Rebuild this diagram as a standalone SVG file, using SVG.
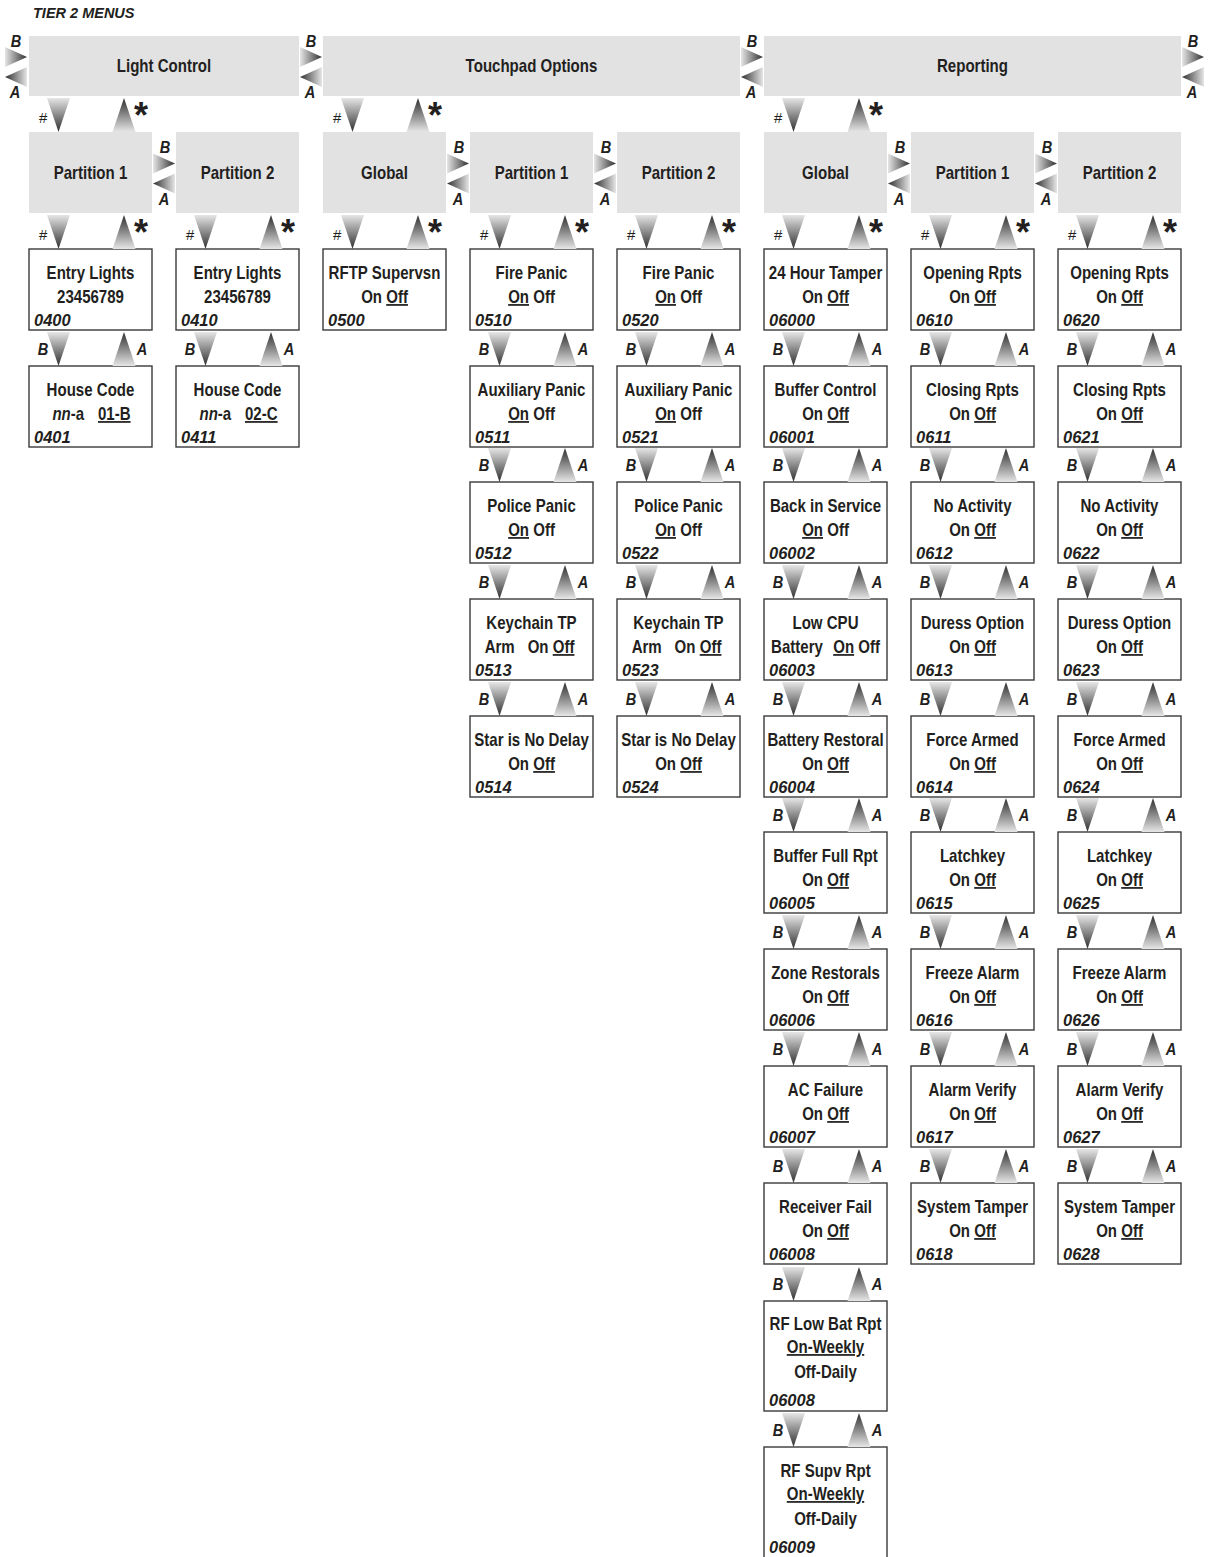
<svg xmlns="http://www.w3.org/2000/svg" xmlns:xlink="http://www.w3.org/1999/xlink" width="1209" height="1557" viewBox="0 0 1209 1557">
<style>
.gray{fill:#e2e2e3}
.bx{fill:#fff;stroke:#3a3a3a;stroke-width:1.4}
.t{font-family:"Liberation Sans",Arial,sans-serif;font-weight:bold;font-size:17.5px;fill:#231f20;text-anchor:middle;transform:scaleX(0.86);transform-box:fill-box;transform-origin:center}
.cd{font-family:"Liberation Sans",Arial,sans-serif;font-weight:bold;font-style:italic;font-size:16.5px;fill:#231f20}
.u{text-decoration:underline;text-decoration-thickness:2px;text-underline-offset:3px}
.i{font-style:italic}
.lb{font-family:"Liberation Sans",Arial,sans-serif;font-weight:bold;font-style:italic;font-size:17px;fill:#231f20;text-anchor:middle;transform:scaleX(0.86);transform-box:fill-box;transform-origin:center}
.hs{font-family:"Liberation Sans",Arial,sans-serif;font-style:italic;font-size:15px;fill:#231f20;text-anchor:middle}
.st{font-family:"Liberation Sans",sans-serif;font-weight:bold;font-size:36px;fill:#231f20;text-anchor:middle}
.hd{font-family:"Liberation Sans",sans-serif;font-weight:bold;font-style:italic;font-size:14.5px;fill:#231f20}
</style>
<defs>
<linearGradient id="gd" x1="0" y1="0" x2="0" y2="1"><stop offset="0" stop-color="#e6e6e6"/><stop offset="1" stop-color="#2e2e2e"/></linearGradient>
<linearGradient id="gu" x1="0" y1="0" x2="0" y2="1"><stop offset="0" stop-color="#2e2e2e"/><stop offset="1" stop-color="#e6e6e6"/></linearGradient>
<linearGradient id="gr" x1="0" y1="0" x2="1" y2="0"><stop offset="0" stop-color="#e6e6e6"/><stop offset="1" stop-color="#2e2e2e"/></linearGradient>
<linearGradient id="gl" x1="0" y1="0" x2="1" y2="0"><stop offset="0" stop-color="#2e2e2e"/><stop offset="1" stop-color="#e6e6e6"/></linearGradient>
<path id="dn" d="M-11.5,0 H11.5 L0,34 Z" fill="url(#gd)"/>
<path id="up" d="M0,0 L11.5,34 H-11.5 Z" fill="url(#gu)"/>
<path id="rt" d="M0,0 L22,10 L0,20 Z" fill="url(#gr)"/>
<path id="lt" d="M22,0 L0,10 L22,20 Z" fill="url(#gl)"/>
</defs>
<rect width="1209" height="1557" fill="#fff"/>
<text class="hd" x="33" y="18">TIER 2 MENUS</text>

<g id="light-control"><rect class="gray" x="29" y="36" width="270" height="60"/><text class="t" x="164" y="72">Light Control</text></g>
<g id="touchpad-options"><rect class="gray" x="323" y="36" width="417" height="60"/><text class="t" x="531.5" y="72">Touchpad Options</text></g>
<g id="reporting"><rect class="gray" x="764" y="36" width="417" height="60"/><text class="t" x="972.5" y="72">Reporting</text></g>

<g id="lc-partition1"><rect class="gray" x="29" y="132" width="123" height="81"/><text class="t" x="90.5" y="179">Partition 1</text></g>
<g id="lc-partition2"><rect class="gray" x="176" y="132" width="123" height="81"/><text class="t" x="237.5" y="179">Partition 2</text></g>
<g id="tp-global"><rect class="gray" x="323" y="132" width="123" height="81"/><text class="t" x="384.5" y="179">Global</text></g>
<g id="tp-partition1"><rect class="gray" x="470" y="132" width="123" height="81"/><text class="t" x="531.5" y="179">Partition 1</text></g>
<g id="tp-partition2"><rect class="gray" x="617" y="132" width="123" height="81"/><text class="t" x="678.5" y="179">Partition 2</text></g>
<g id="rp-global"><rect class="gray" x="764" y="132" width="123" height="81"/><text class="t" x="825.5" y="179">Global</text></g>
<g id="rp-partition1"><rect class="gray" x="911" y="132" width="123" height="81"/><text class="t" x="972.5" y="179">Partition 1</text></g>
<g id="rp-partition2"><rect class="gray" x="1058" y="132" width="123" height="81"/><text class="t" x="1119.5" y="179">Partition 2</text></g>

<!-- Light control column 0 -->
<g id="n0400"><rect class="bx" x="29" y="249" width="123" height="81"/><text class="t" x="90.5" y="279">Entry Lights</text><text class="t" x="90.5" y="303">23456789</text><text class="cd" x="34" y="326">0400</text></g>
<g id="n0401"><rect class="bx" x="29" y="366" width="123" height="81"/><text class="t" x="90.5" y="396">House Code</text><text class="t" x="91.5" y="420"><tspan class="i">nn</tspan>-a<tspan class="u" dx="16">01-B</tspan></text><text class="cd" x="34" y="443">0401</text></g>
<g id="n0410"><rect class="bx" x="176" y="249" width="123" height="81"/><text class="t" x="237.5" y="279">Entry Lights</text><text class="t" x="237.5" y="303">23456789</text><text class="cd" x="181" y="326">0410</text></g>
<g id="n0411"><rect class="bx" x="176" y="366" width="123" height="81"/><text class="t" x="237.5" y="396">House Code</text><text class="t" x="238.5" y="420"><tspan class="i">nn</tspan>-a<tspan class="u" dx="16">02-C</tspan></text><text class="cd" x="181" y="443">0411</text></g>

<!-- Touchpad global -->
<g id="n0500"><rect class="bx" x="323" y="249" width="123" height="81"/><text class="t" x="384.5" y="279">RFTP Supervsn</text><text class="t" x="384.5" y="303">On <tspan class="u">Off</tspan></text><text class="cd" x="328" y="326">0500</text></g>

<!-- Touchpad partition 1 -->
<g id="n0510"><rect class="bx" x="470" y="249" width="123" height="81"/><text class="t" x="531.5" y="279">Fire Panic</text><text class="t" x="531.5" y="303"><tspan class="u">On</tspan> Off</text><text class="cd" x="475" y="326">0510</text></g>
<g id="n0511"><rect class="bx" x="470" y="366" width="123" height="81"/><text class="t" x="531.5" y="396">Auxiliary Panic</text><text class="t" x="531.5" y="420"><tspan class="u">On</tspan> Off</text><text class="cd" x="475" y="443">0511</text></g>
<g id="n0512"><rect class="bx" x="470" y="482" width="123" height="81"/><text class="t" x="531.5" y="512">Police Panic</text><text class="t" x="531.5" y="536"><tspan class="u">On</tspan> Off</text><text class="cd" x="475" y="559">0512</text></g>
<g id="n0513"><rect class="bx" x="470" y="599" width="123" height="81"/><text class="t" x="531.5" y="629">Keychain TP</text><text class="t" x="529.5" y="653">Arm<tspan dx="15">On</tspan> <tspan class="u">Off</tspan></text><text class="cd" x="475" y="676">0513</text></g>
<g id="n0514"><rect class="bx" x="470" y="716" width="123" height="81"/><text class="t" x="531.5" y="746">Star is No Delay</text><text class="t" x="531.5" y="770">On <tspan class="u">Off</tspan></text><text class="cd" x="475" y="793">0514</text></g>

<!-- Touchpad partition 2 -->
<g id="n0520"><rect class="bx" x="617" y="249" width="123" height="81"/><text class="t" x="678.5" y="279">Fire Panic</text><text class="t" x="678.5" y="303"><tspan class="u">On</tspan> Off</text><text class="cd" x="622" y="326">0520</text></g>
<g id="n0521"><rect class="bx" x="617" y="366" width="123" height="81"/><text class="t" x="678.5" y="396">Auxiliary Panic</text><text class="t" x="678.5" y="420"><tspan class="u">On</tspan> Off</text><text class="cd" x="622" y="443">0521</text></g>
<g id="n0522"><rect class="bx" x="617" y="482" width="123" height="81"/><text class="t" x="678.5" y="512">Police Panic</text><text class="t" x="678.5" y="536"><tspan class="u">On</tspan> Off</text><text class="cd" x="622" y="559">0522</text></g>
<g id="n0523"><rect class="bx" x="617" y="599" width="123" height="81"/><text class="t" x="678.5" y="629">Keychain TP</text><text class="t" x="676.5" y="653">Arm<tspan dx="15">On</tspan> <tspan class="u">Off</tspan></text><text class="cd" x="622" y="676">0523</text></g>
<g id="n0524"><rect class="bx" x="617" y="716" width="123" height="81"/><text class="t" x="678.5" y="746">Star is No Delay</text><text class="t" x="678.5" y="770">On <tspan class="u">Off</tspan></text><text class="cd" x="622" y="793">0524</text></g>

<!-- Reporting global -->
<g id="n06000"><rect class="bx" x="764" y="249" width="123" height="81"/><text class="t" x="825.5" y="279">24 Hour Tamper</text><text class="t" x="825.5" y="303">On <tspan class="u">Off</tspan></text><text class="cd" x="769" y="326">06000</text></g>
<g id="n06001"><rect class="bx" x="764" y="366" width="123" height="81"/><text class="t" x="825.5" y="396">Buffer Control</text><text class="t" x="825.5" y="420">On <tspan class="u">Off</tspan></text><text class="cd" x="769" y="443">06001</text></g>
<g id="n06002"><rect class="bx" x="764" y="482" width="123" height="81"/><text class="t" x="825.5" y="512">Back in Service</text><text class="t" x="825.5" y="536"><tspan class="u">On</tspan> Off</text><text class="cd" x="769" y="559">06002</text></g>
<g id="n06003"><rect class="bx" x="764" y="599" width="123" height="81"/><text class="t" x="825.5" y="629">Low CPU</text><text class="t" x="825.5" y="653">Battery<tspan class="u" dx="12">On</tspan> Off</text><text class="cd" x="769" y="676">06003</text></g>
<g id="n06004"><rect class="bx" x="764" y="716" width="123" height="81"/><text class="t" x="825.5" y="746">Battery Restoral</text><text class="t" x="825.5" y="770">On <tspan class="u">Off</tspan></text><text class="cd" x="769" y="793">06004</text></g>
<g id="n06005"><rect class="bx" x="764" y="832" width="123" height="81"/><text class="t" x="825.5" y="862">Buffer Full Rpt</text><text class="t" x="825.5" y="886">On <tspan class="u">Off</tspan></text><text class="cd" x="769" y="909">06005</text></g>
<g id="n06006"><rect class="bx" x="764" y="949" width="123" height="81"/><text class="t" x="825.5" y="979">Zone Restorals</text><text class="t" x="825.5" y="1003">On <tspan class="u">Off</tspan></text><text class="cd" x="769" y="1026">06006</text></g>
<g id="n06007"><rect class="bx" x="764" y="1066" width="123" height="81"/><text class="t" x="825.5" y="1096">AC Failure</text><text class="t" x="825.5" y="1120">On <tspan class="u">Off</tspan></text><text class="cd" x="769" y="1143">06007</text></g>
<g id="n06008"><rect class="bx" x="764" y="1183" width="123" height="81"/><text class="t" x="825.5" y="1213">Receiver Fail</text><text class="t" x="825.5" y="1237">On <tspan class="u">Off</tspan></text><text class="cd" x="769" y="1260">06008</text></g>
<g id="n06008b"><rect class="bx" x="764" y="1301" width="123" height="110"/><text class="t" x="825.5" y="1330">RF Low Bat Rpt</text><text class="t" x="825.5" y="1353"><tspan class="u">On-Weekly</tspan></text><text class="t" x="825.5" y="1378">Off-Daily</text><text class="cd" x="769" y="1406">06008</text></g>
<g id="n06009"><rect class="bx" x="764" y="1447" width="123" height="114"/><text class="t" x="825.5" y="1477">RF Supv Rpt</text><text class="t" x="825.5" y="1500"><tspan class="u">On-Weekly</tspan></text><text class="t" x="825.5" y="1525">Off-Daily</text><text class="cd" x="769" y="1553">06009</text></g>

<!-- Reporting partition 1 -->
<g id="n0610"><rect class="bx" x="911" y="249" width="123" height="81"/><text class="t" x="972.5" y="279">Opening Rpts</text><text class="t" x="972.5" y="303">On <tspan class="u">Off</tspan></text><text class="cd" x="916" y="326">0610</text></g>
<g id="n0611"><rect class="bx" x="911" y="366" width="123" height="81"/><text class="t" x="972.5" y="396">Closing Rpts</text><text class="t" x="972.5" y="420">On <tspan class="u">Off</tspan></text><text class="cd" x="916" y="443">0611</text></g>
<g id="n0612"><rect class="bx" x="911" y="482" width="123" height="81"/><text class="t" x="972.5" y="512">No Activity</text><text class="t" x="972.5" y="536">On <tspan class="u">Off</tspan></text><text class="cd" x="916" y="559">0612</text></g>
<g id="n0613"><rect class="bx" x="911" y="599" width="123" height="81"/><text class="t" x="972.5" y="629">Duress Option</text><text class="t" x="972.5" y="653">On <tspan class="u">Off</tspan></text><text class="cd" x="916" y="676">0613</text></g>
<g id="n0614"><rect class="bx" x="911" y="716" width="123" height="81"/><text class="t" x="972.5" y="746">Force Armed</text><text class="t" x="972.5" y="770">On <tspan class="u">Off</tspan></text><text class="cd" x="916" y="793">0614</text></g>
<g id="n0615"><rect class="bx" x="911" y="832" width="123" height="81"/><text class="t" x="972.5" y="862">Latchkey</text><text class="t" x="972.5" y="886">On <tspan class="u">Off</tspan></text><text class="cd" x="916" y="909">0615</text></g>
<g id="n0616"><rect class="bx" x="911" y="949" width="123" height="81"/><text class="t" x="972.5" y="979">Freeze Alarm</text><text class="t" x="972.5" y="1003">On <tspan class="u">Off</tspan></text><text class="cd" x="916" y="1026">0616</text></g>
<g id="n0617"><rect class="bx" x="911" y="1066" width="123" height="81"/><text class="t" x="972.5" y="1096">Alarm Verify</text><text class="t" x="972.5" y="1120">On <tspan class="u">Off</tspan></text><text class="cd" x="916" y="1143">0617</text></g>
<g id="n0618"><rect class="bx" x="911" y="1183" width="123" height="81"/><text class="t" x="972.5" y="1213">System Tamper</text><text class="t" x="972.5" y="1237">On <tspan class="u">Off</tspan></text><text class="cd" x="916" y="1260">0618</text></g>

<!-- Reporting partition 2 -->
<g id="n0620"><rect class="bx" x="1058" y="249" width="123" height="81"/><text class="t" x="1119.5" y="279">Opening Rpts</text><text class="t" x="1119.5" y="303">On <tspan class="u">Off</tspan></text><text class="cd" x="1063" y="326">0620</text></g>
<g id="n0621"><rect class="bx" x="1058" y="366" width="123" height="81"/><text class="t" x="1119.5" y="396">Closing Rpts</text><text class="t" x="1119.5" y="420">On <tspan class="u">Off</tspan></text><text class="cd" x="1063" y="443">0621</text></g>
<g id="n0622"><rect class="bx" x="1058" y="482" width="123" height="81"/><text class="t" x="1119.5" y="512">No Activity</text><text class="t" x="1119.5" y="536">On <tspan class="u">Off</tspan></text><text class="cd" x="1063" y="559">0622</text></g>
<g id="n0623"><rect class="bx" x="1058" y="599" width="123" height="81"/><text class="t" x="1119.5" y="629">Duress Option</text><text class="t" x="1119.5" y="653">On <tspan class="u">Off</tspan></text><text class="cd" x="1063" y="676">0623</text></g>
<g id="n0624"><rect class="bx" x="1058" y="716" width="123" height="81"/><text class="t" x="1119.5" y="746">Force Armed</text><text class="t" x="1119.5" y="770">On <tspan class="u">Off</tspan></text><text class="cd" x="1063" y="793">0624</text></g>
<g id="n0625"><rect class="bx" x="1058" y="832" width="123" height="81"/><text class="t" x="1119.5" y="862">Latchkey</text><text class="t" x="1119.5" y="886">On <tspan class="u">Off</tspan></text><text class="cd" x="1063" y="909">0625</text></g>
<g id="n0626"><rect class="bx" x="1058" y="949" width="123" height="81"/><text class="t" x="1119.5" y="979">Freeze Alarm</text><text class="t" x="1119.5" y="1003">On <tspan class="u">Off</tspan></text><text class="cd" x="1063" y="1026">0626</text></g>
<g id="n0627"><rect class="bx" x="1058" y="1066" width="123" height="81"/><text class="t" x="1119.5" y="1096">Alarm Verify</text><text class="t" x="1119.5" y="1120">On <tspan class="u">Off</tspan></text><text class="cd" x="1063" y="1143">0627</text></g>
<g id="n0628"><rect class="bx" x="1058" y="1183" width="123" height="81"/><text class="t" x="1119.5" y="1213">System Tamper</text><text class="t" x="1119.5" y="1237">On <tspan class="u">Off</tspan></text><text class="cd" x="1063" y="1260">0628</text></g>

<g id="connectors">
<!-- side arrows, top row (c=66) -->
<use href="#rt" x="5" y="47"/><use href="#lt" x="5" y="67"/><text class="lb" x="16" y="47">B</text><text class="lb" x="15" y="98">A</text>
<use href="#rt" x="300" y="47"/><use href="#lt" x="300" y="67"/><text class="lb" x="311" y="47">B</text><text class="lb" x="310" y="98">A</text>
<use href="#rt" x="741" y="47"/><use href="#lt" x="741" y="67"/><text class="lb" x="752" y="47">B</text><text class="lb" x="751" y="98">A</text>
<use href="#rt" x="1182" y="47"/><use href="#lt" x="1182" y="67"/><text class="lb" x="1193" y="47">B</text><text class="lb" x="1192" y="98">A</text>
<!-- side arrows, partition row (c=172.5) -->
<use href="#rt" x="153" y="153.5"/><use href="#lt" x="153" y="173.5"/><text class="lb" x="165" y="153">B</text><text class="lb" x="164" y="205">A</text>
<use href="#rt" x="447" y="153.5"/><use href="#lt" x="447" y="173.5"/><text class="lb" x="459" y="153">B</text><text class="lb" x="458" y="205">A</text>
<use href="#rt" x="594" y="153.5"/><use href="#lt" x="594" y="173.5"/><text class="lb" x="606" y="153">B</text><text class="lb" x="605" y="205">A</text>
<use href="#rt" x="888" y="153.5"/><use href="#lt" x="888" y="173.5"/><text class="lb" x="900" y="153">B</text><text class="lb" x="899" y="205">A</text>
<use href="#rt" x="1035" y="153.5"/><use href="#lt" x="1035" y="173.5"/><text class="lb" x="1047" y="153">B</text><text class="lb" x="1046" y="205">A</text>

<!-- top menu to partition -->
<use href="#dn" x="58.5" y="98"/><use href="#up" x="124" y="98"/><text class="hs" x="43" y="123">#</text><text class="st" x="141" y="128">*</text>
<use href="#dn" x="352.5" y="98"/><use href="#up" x="418" y="98"/><text class="hs" x="337" y="123">#</text><text class="st" x="435" y="128">*</text>
<use href="#dn" x="793.5" y="98"/><use href="#up" x="859" y="98"/><text class="hs" x="778" y="123">#</text><text class="st" x="876" y="128">*</text>

<!-- partition to first item -->
<use href="#dn" x="58.5" y="215"/><use href="#up" x="124" y="215"/><text class="hs" x="43" y="240">#</text><text class="st" x="141" y="245">*</text>
<use href="#dn" x="205.5" y="215"/><use href="#up" x="271" y="215"/><text class="hs" x="190" y="240">#</text><text class="st" x="288" y="245">*</text>
<use href="#dn" x="352.5" y="215"/><use href="#up" x="418" y="215"/><text class="hs" x="337" y="240">#</text><text class="st" x="435" y="245">*</text>
<use href="#dn" x="499.5" y="215"/><use href="#up" x="565" y="215"/><text class="hs" x="484" y="240">#</text><text class="st" x="582" y="245">*</text>
<use href="#dn" x="646.5" y="215"/><use href="#up" x="712" y="215"/><text class="hs" x="631" y="240">#</text><text class="st" x="729" y="245">*</text>
<use href="#dn" x="793.5" y="215"/><use href="#up" x="859" y="215"/><text class="hs" x="778" y="240">#</text><text class="st" x="876" y="245">*</text>
<use href="#dn" x="940.5" y="215"/><use href="#up" x="1006" y="215"/><text class="hs" x="925" y="240">#</text><text class="st" x="1023" y="245">*</text>
<use href="#dn" x="1087.5" y="215"/><use href="#up" x="1153" y="215"/><text class="hs" x="1072" y="240">#</text><text class="st" x="1170" y="245">*</text>

<!-- item to item: col 0,1 -->
<use href="#dn" x="58.5" y="332"/><use href="#up" x="124" y="332"/><text class="lb" x="43" y="355">B</text><text class="lb" x="142" y="355">A</text>
<use href="#dn" x="205.5" y="332"/><use href="#up" x="271" y="332"/><text class="lb" x="190" y="355">B</text><text class="lb" x="289" y="355">A</text>

<!-- col 3 -->
<use href="#dn" x="499.5" y="332"/><use href="#up" x="565" y="332"/><text class="lb" x="484" y="355">B</text><text class="lb" x="583" y="355">A</text>
<use href="#dn" x="499.5" y="448"/><use href="#up" x="565" y="448"/><text class="lb" x="484" y="471">B</text><text class="lb" x="583" y="471">A</text>
<use href="#dn" x="499.5" y="565"/><use href="#up" x="565" y="565"/><text class="lb" x="484" y="588">B</text><text class="lb" x="583" y="588">A</text>
<use href="#dn" x="499.5" y="682"/><use href="#up" x="565" y="682"/><text class="lb" x="484" y="705">B</text><text class="lb" x="583" y="705">A</text>
<!-- col 4 -->
<use href="#dn" x="646.5" y="332"/><use href="#up" x="712" y="332"/><text class="lb" x="631" y="355">B</text><text class="lb" x="730" y="355">A</text>
<use href="#dn" x="646.5" y="448"/><use href="#up" x="712" y="448"/><text class="lb" x="631" y="471">B</text><text class="lb" x="730" y="471">A</text>
<use href="#dn" x="646.5" y="565"/><use href="#up" x="712" y="565"/><text class="lb" x="631" y="588">B</text><text class="lb" x="730" y="588">A</text>
<use href="#dn" x="646.5" y="682"/><use href="#up" x="712" y="682"/><text class="lb" x="631" y="705">B</text><text class="lb" x="730" y="705">A</text>
<!-- col 5 -->
<use href="#dn" x="793.5" y="332"/><use href="#up" x="859" y="332"/><text class="lb" x="778" y="355">B</text><text class="lb" x="877" y="355">A</text>
<use href="#dn" x="793.5" y="448"/><use href="#up" x="859" y="448"/><text class="lb" x="778" y="471">B</text><text class="lb" x="877" y="471">A</text>
<use href="#dn" x="793.5" y="565"/><use href="#up" x="859" y="565"/><text class="lb" x="778" y="588">B</text><text class="lb" x="877" y="588">A</text>
<use href="#dn" x="793.5" y="682"/><use href="#up" x="859" y="682"/><text class="lb" x="778" y="705">B</text><text class="lb" x="877" y="705">A</text>
<use href="#dn" x="793.5" y="798"/><use href="#up" x="859" y="798"/><text class="lb" x="778" y="821">B</text><text class="lb" x="877" y="821">A</text>
<use href="#dn" x="793.5" y="915"/><use href="#up" x="859" y="915"/><text class="lb" x="778" y="938">B</text><text class="lb" x="877" y="938">A</text>
<use href="#dn" x="793.5" y="1032"/><use href="#up" x="859" y="1032"/><text class="lb" x="778" y="1055">B</text><text class="lb" x="877" y="1055">A</text>
<use href="#dn" x="793.5" y="1149"/><use href="#up" x="859" y="1149"/><text class="lb" x="778" y="1172">B</text><text class="lb" x="877" y="1172">A</text>
<use href="#dn" x="793.5" y="1267"/><use href="#up" x="859" y="1267"/><text class="lb" x="778" y="1290">B</text><text class="lb" x="877" y="1290">A</text>
<use href="#dn" x="793.5" y="1413"/><use href="#up" x="859" y="1413"/><text class="lb" x="778" y="1436">B</text><text class="lb" x="877" y="1436">A</text>
<!-- col 6 -->
<use href="#dn" x="940.5" y="332"/><use href="#up" x="1006" y="332"/><text class="lb" x="925" y="355">B</text><text class="lb" x="1024" y="355">A</text>
<use href="#dn" x="940.5" y="448"/><use href="#up" x="1006" y="448"/><text class="lb" x="925" y="471">B</text><text class="lb" x="1024" y="471">A</text>
<use href="#dn" x="940.5" y="565"/><use href="#up" x="1006" y="565"/><text class="lb" x="925" y="588">B</text><text class="lb" x="1024" y="588">A</text>
<use href="#dn" x="940.5" y="682"/><use href="#up" x="1006" y="682"/><text class="lb" x="925" y="705">B</text><text class="lb" x="1024" y="705">A</text>
<use href="#dn" x="940.5" y="798"/><use href="#up" x="1006" y="798"/><text class="lb" x="925" y="821">B</text><text class="lb" x="1024" y="821">A</text>
<use href="#dn" x="940.5" y="915"/><use href="#up" x="1006" y="915"/><text class="lb" x="925" y="938">B</text><text class="lb" x="1024" y="938">A</text>
<use href="#dn" x="940.5" y="1032"/><use href="#up" x="1006" y="1032"/><text class="lb" x="925" y="1055">B</text><text class="lb" x="1024" y="1055">A</text>
<use href="#dn" x="940.5" y="1149"/><use href="#up" x="1006" y="1149"/><text class="lb" x="925" y="1172">B</text><text class="lb" x="1024" y="1172">A</text>
<!-- col 7 -->
<use href="#dn" x="1087.5" y="332"/><use href="#up" x="1153" y="332"/><text class="lb" x="1072" y="355">B</text><text class="lb" x="1171" y="355">A</text>
<use href="#dn" x="1087.5" y="448"/><use href="#up" x="1153" y="448"/><text class="lb" x="1072" y="471">B</text><text class="lb" x="1171" y="471">A</text>
<use href="#dn" x="1087.5" y="565"/><use href="#up" x="1153" y="565"/><text class="lb" x="1072" y="588">B</text><text class="lb" x="1171" y="588">A</text>
<use href="#dn" x="1087.5" y="682"/><use href="#up" x="1153" y="682"/><text class="lb" x="1072" y="705">B</text><text class="lb" x="1171" y="705">A</text>
<use href="#dn" x="1087.5" y="798"/><use href="#up" x="1153" y="798"/><text class="lb" x="1072" y="821">B</text><text class="lb" x="1171" y="821">A</text>
<use href="#dn" x="1087.5" y="915"/><use href="#up" x="1153" y="915"/><text class="lb" x="1072" y="938">B</text><text class="lb" x="1171" y="938">A</text>
<use href="#dn" x="1087.5" y="1032"/><use href="#up" x="1153" y="1032"/><text class="lb" x="1072" y="1055">B</text><text class="lb" x="1171" y="1055">A</text>
<use href="#dn" x="1087.5" y="1149"/><use href="#up" x="1153" y="1149"/><text class="lb" x="1072" y="1172">B</text><text class="lb" x="1171" y="1172">A</text>
</g>
</svg>
